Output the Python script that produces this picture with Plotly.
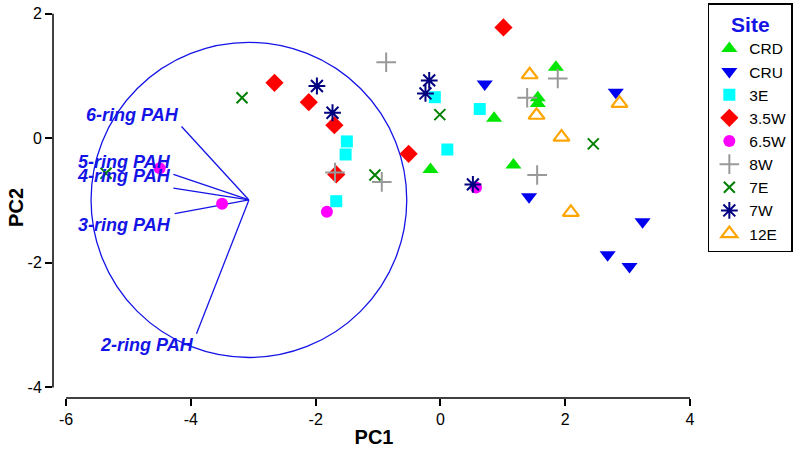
"""PCA biplot: PC1 vs PC2 scores per site, with PAH-ring loadings in a circle."""
import plotly.graph_objects as go

# site scores (PC1, PC2)
crd_x = [1.85, 1.56, 1.56, 0.86, 1.17, -0.16]
crd_y = [1.14, 0.65, 0.56, 0.32, -0.43, -0.50]
cru_x = [0.71, 2.81, 1.42, 3.24, 2.68, 3.03]
cru_y = [0.87, 0.74, -0.94, -1.34, -1.87, -2.06]
e3_x = [-0.09, 0.63, 0.11, -1.50, -1.52, -1.67]
e3_y = [0.66, 0.47, -0.18, -0.05, -0.26, -1.01]
w35_x = [1.01, -2.66, -2.11, -1.70, -1.67, -0.51]
w35_y = [1.78, 0.89, 0.58, 0.21, -0.58, -0.25]
w65_x = [-4.50, -3.50, -1.82, 0.57]
w65_y = [-0.48, -1.05, -1.18, -0.79]
w8_x = [-0.87, 1.88, 1.39, 1.55, -0.94, -1.69]
w8_y = [1.22, 0.96, 0.65, -0.59, -0.70, -0.55]
e7_x = [-3.18, -5.36, -0.01, -1.05, 2.45]
e7_y = [0.65, -0.56, 0.38, -0.59, -0.09]
w7_x = [-1.98, -1.73, -0.18, -0.24, 0.52]
w7_y = [0.84, 0.41, 0.93, 0.72, -0.74]
e12_x = [1.43, 1.54, 2.87, 1.94, 2.09]
e12_y = [1.02, 0.37, 0.56, 0.02, -1.19]

# loadings (drawn from the circle centre)
load_names = ["6-ring PAH", "5-ring PAH", "4-ring PAH", "3-ring PAH", "2-ring PAH"]
load_x = [-4.15, -4.28, -4.28, -4.26, -3.91]
load_y = [0.19, -0.58, -0.80, -1.21, -3.14]
label_x = [-4.93, -5.07, -5.07, -5.07, -4.70]
label_y = [0.38, -0.38, -0.61, -1.40, -3.32]
circle_cx, circle_cy, circle_r = -3.07, -0.99, 2.53

x_ticks = [-6, -4, -2, 0, 2, 4]
y_ticks = [-4, -2, 0, 2]

FONT = "Arial, Liberation Sans, sans-serif"
BLUE = "#1414e6"

fig = go.Figure()

# circle + loading lines
fig.add_shape(type="circle", xref="x", yref="y",
              x0=circle_cx - circle_r, x1=circle_cx + circle_r,
              y0=circle_cy - circle_r, y1=circle_cy + circle_r,
              line=dict(color=BLUE, width=1.3), layer="below")
lx, ly = [], []
for x, y in zip(load_x, load_y):
    lx += [circle_cx, x, None]
    ly += [circle_cy, y, None]
fig.add_trace(go.Scatter(x=lx, y=ly, mode="lines", line=dict(color=BLUE, width=1.3),
                         showlegend=False, hoverinfo="skip"))

sites = [
    ("CRD", crd_x, crd_y, dict(symbol="triangle-up", size=14, color="#00e600")),
    ("CRU", cru_x, cru_y, dict(symbol="triangle-down", size=14, color="#0000f0")),
    ("3E", e3_x, e3_y, dict(symbol="square", size=12, color="#00ffff")),
    ("3.5W", w35_x, w35_y, dict(symbol="diamond", size=14, color="#ff0000")),
    ("6.5W", w65_x, w65_y, dict(symbol="circle", size=12, color="#ff00ff")),
    ("8W", w8_x, w8_y, dict(symbol="cross-thin", size=14, color="#999999",
                             line=dict(color="#999999", width=2))),
    ("7E", e7_x, e7_y, dict(symbol="x-thin", size=11, color="#008000",
                             line=dict(color="#008000", width=2))),
    ("7W", w7_x, w7_y, dict(symbol="asterisk", size=14, color="#000080",
                             line=dict(color="#000080", width=2))),
    ("12E", e12_x, e12_y, dict(symbol="triangle-up-open", size=14, color="#ffa500",
                                line=dict(color="#ffa500", width=2.2))),
]
for name, xs, ys, marker in sites:
    fig.add_trace(go.Scatter(x=xs, y=ys, mode="markers", name=name, marker=marker))

for name, x, y in zip(load_names, label_x, label_y):
    fig.add_annotation(x=x, y=y, text=f"<b><i>{name}</i></b>", showarrow=False,
                       font=dict(family=FONT, size=18, color=BLUE))

# y-axis title placed by hand (sits a bit closer to the ticks than plotly's)
fig.add_annotation(x=0, y=0.49, xref="paper", yref="paper", xanchor="right",
                   xshift=-24, textangle=-90, showarrow=False,
                   text="<b>PC2</b>", font=dict(family=FONT, size=20, color="black"))

# detached axis lines
fig.add_shape(type="line", xref="x", yref="paper", x0=-6, x1=4, y0=0, y1=0,
              line=dict(color="black", width=1.5))
fig.add_shape(type="line", xref="paper", yref="y", x0=0, x1=0, y0=-4, y1=2,
              line=dict(color="black", width=1.5))

fig.update_layout(
    width=800, height=453,
    margin=dict(l=53, r=105, t=10, b=55, autoexpand=False),
    plot_bgcolor="white", paper_bgcolor="white",
    font=dict(family=FONT, size=16, color="black"),
    legend=dict(
        x=1.02, xanchor="left", y=1.018, yanchor="top", maxheight=400,
        entrywidth=50,
        bordercolor="black", borderwidth=1.5, bgcolor="white",
        font=dict(size=15.5, color="black"),
        title=dict(text="<b>Site</b>", side="top center",
                   font=dict(size=21, color=BLUE)),
    ),
)
fig.update_xaxes(range=[-6.21, 4.08], tickvals=x_ticks, ticktext=[str(v) for v in x_ticks],
                 ticks="outside", ticklen=7, automargin=False,
                 tickwidth=1.5, tickcolor="black", showline=False, showgrid=False,
                 zeroline=False,
                 title=dict(text="<b>PC1</b>", font=dict(size=20), standoff=2))
fig.update_yaxes(range=[-4.17, 2.06], tickvals=y_ticks, ticktext=[str(v) for v in y_ticks],
                 ticks="outside", ticklen=7, automargin=False,
                 tickwidth=1.5, tickcolor="black", showline=False, showgrid=False,
                 zeroline=False)

fig.write_html("out.html", config={"displayModeBar": False},
               post_script="document.body.style.margin = '0';")
